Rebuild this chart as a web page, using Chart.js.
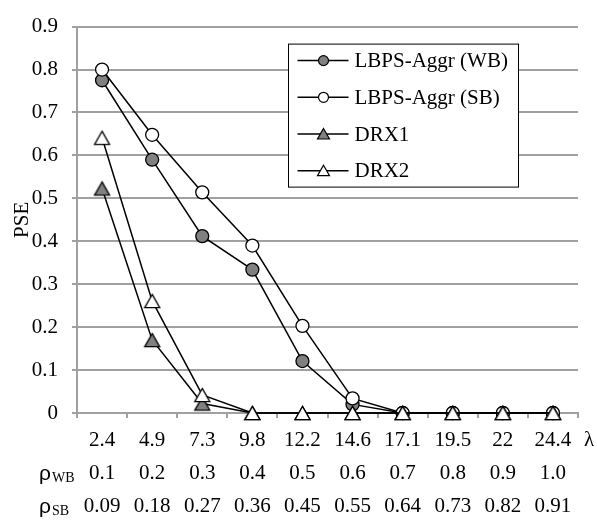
<!DOCTYPE html>
<html>
<head>
<meta charset="utf-8">
<script src="https://cdn.jsdelivr.net/npm/chart.js@4/dist/chart.umd.min.js"></script>
<style>
html, body { margin: 0; padding: 0; background: #fff; }
</style>
</head>
<body>
<canvas id="pseChart" width="597" height="520"></canvas>
<script>
// data
const lambdaLabels = ['2.4', '4.9', '7.3', '9.8', '12.2', '14.6', '17.1', '19.5', '22', '24.4'];
const rhoWB = ['0.1', '0.2', '0.3', '0.4', '0.5', '0.6', '0.7', '0.8', '0.9', '1.0'];
const rhoSB = ['0.09', '0.18', '0.27', '0.36', '0.45', '0.55', '0.64', '0.73', '0.82', '0.91'];
const yTicks = [0, 0.1, 0.2, 0.3, 0.4, 0.5, 0.6, 0.7, 0.8, 0.9];
const yTickLabels = ['0', '0.1', '0.2', '0.3', '0.4', '0.5', '0.6', '0.7', '0.8', '0.9'];

const lbpsWB = [0.775, 0.59, 0.412, 0.334, 0.121, 0.02, 0, 0, 0, 0];
const lbpsSB = [0.8, 0.648, 0.514, 0.39, 0.203, 0.034, 0, 0, 0, 0];
const drx1 = [0.523, 0.17, 0.022, 0, 0, 0, 0, 0, 0, 0];
const drx2 = [0.641, 0.261, 0.042, 0, 0, 0, 0, 0, 0, 0];

const seriesNames = ['LBPS-Aggr (WB)', 'LBPS-Aggr (SB)', 'DRX1', 'DRX2'];

const FONT = "'Liberation Serif', 'Times New Roman', serif";
const SIZE = 21;
const GRID = '#a0a0a0';
const GRAY_FILL = '#808080';

// triangle marker with its box centered on the point (like Excel)
function triangleMarker(r, fill) {
    const c = document.createElement('canvas');
    const w = Math.ceil(r * 2 + 4), h = Math.ceil(r * 1.75 + 4);
    c.width = w; c.height = h;
    const g = c.getContext('2d');
    const cx = w / 2, half = r * 0.875;
    g.beginPath();
    g.moveTo(cx, h / 2 - half);
    g.lineTo(cx + r, h / 2 + half);
    g.lineTo(cx - r, h / 2 + half);
    g.closePath();
    g.fillStyle = fill;
    g.fill();
    g.lineWidth = 1.3;
    g.strokeStyle = '#000';
    g.stroke();
    return c;
}

const labels = lambdaLabels.map((l, i) => [l, rhoWB[i], rhoSB[i]]);

function makeSet(name, data, style, fill, order) {
    return {
        label: name,
        data: data,
        borderColor: '#000',
        borderWidth: 1.5,
        pointStyle: style,
        pointRadius: 6.5,
        pointBackgroundColor: fill,
        pointBorderColor: '#000',
        pointBorderWidth: 1.3,
        tension: 0,
        clip: false,
        order: order
    };
}

// legend + the extra rho / lambda row titles
const extraText = {
    id: 'extraText',
    afterDraw(chart) {
        const ctx = chart.ctx;
        const area = chart.chartArea;
        const rowY = i => area.bottom + 11 + 33 * (i + 0.5);
        ctx.save();
        ctx.fillStyle = '#000';
        ctx.textBaseline = 'middle';
        ctx.textAlign = 'left';
        ctx.font = SIZE + 'px ' + FONT;
        ctx.fillText('λ', area.right + 6, rowY(0));

        const subs = ['WB', 'SB'];
        subs.forEach((s, i) => {
            const y = rowY(i + 1);
            ctx.font = SIZE + "px 'Liberation Sans', Arial, sans-serif";
            ctx.fillText('ρ', 39, y + 1);
            const w = ctx.measureText('ρ').width;
            ctx.font = "14px " + FONT;
            ctx.fillText(s, 39 + w + 1, y + 5);
        });

        // legend box
        const bx = area.left + 211.5, by = area.top + 17.5, bw = 230, bh = 143;
        ctx.fillStyle = '#fff';
        ctx.fillRect(bx, by, bw, bh);
        ctx.strokeStyle = '#000';
        ctx.lineWidth = 1;
        ctx.strokeRect(bx, by, bw, bh);

        const fills = [GRAY_FILL, '#fff', GRAY_FILL, '#fff'];
        const shapes = ['circle', 'circle', 'triangle', 'triangle'];
        seriesNames.forEach((name, i) => {
            const y = by + 16.5 + i * 36.7;
            ctx.beginPath();
            ctx.moveTo(bx + 9, y);
            ctx.lineTo(bx + 60, y);
            ctx.lineWidth = 1.5;
            ctx.strokeStyle = '#000';
            ctx.stroke();
            const mx = bx + 35;
            ctx.beginPath();
            if (shapes[i] === 'circle') {
                ctx.arc(mx, y, 5, 0, Math.PI * 2);
            } else {
                ctx.moveTo(mx, y - 5.5);
                ctx.lineTo(mx + 6, y + 5);
                ctx.lineTo(mx - 6, y + 5);
                ctx.closePath();
            }
            ctx.fillStyle = fills[i];
            ctx.fill();
            ctx.lineWidth = 1.2;
            ctx.stroke();
            ctx.fillStyle = '#000';
            ctx.font = SIZE + 'px ' + FONT;
            ctx.fillText(name, bx + 66, y + 1);
        });
        ctx.restore();
    }
};

const ctx = document.getElementById('pseChart').getContext('2d');
const pseChart = new Chart(ctx, {
    type: 'line',
    data: {
        labels: labels,
        datasets: [
            makeSet(seriesNames[0], lbpsWB, 'circle', GRAY_FILL, 4),
            makeSet(seriesNames[1], lbpsSB, 'circle', '#fff', 3),
            makeSet(seriesNames[2], drx1, triangleMarker(7.5, GRAY_FILL), GRAY_FILL, 2),
            makeSet(seriesNames[3], drx2, triangleMarker(7.5, '#fff'), '#fff', 1)
        ]
    },
    options: {
        responsive: false,
        animation: false,
        devicePixelRatio: 1,
        layout: {
            padding: { top: 19, right: 19, left: 0, bottom: 0 }
        },
        plugins: {
            legend: { display: false },
            tooltip: { enabled: false }
        },
        scales: {
            x: {
                type: 'category',
                offset: true,
                grid: {
                    offset: true,
                    drawOnChartArea: false,
                    drawTicks: true,
                    tickLength: 5,
                    color: GRID,
                    lineWidth: 2
                },
                border: { color: GRID, width: 2 },
                ticks: {
                    color: '#000',
                    font: { family: FONT, size: SIZE, lineHeight: '33px' },
                    padding: 6,
                    maxRotation: 0,
                    autoSkip: false
                },
                afterFit: s => { s.height = 107; }
            },
            y: {
                min: 0,
                max: 0.9,
                afterBuildTicks: s => { s.ticks = yTicks.map(v => ({ value: v })); },
                grid: {
                    color: GRID,
                    lineWidth: 2,
                    tickLength: 5,
                    drawTicks: true
                },
                border: { color: GRID, width: 2 },
                ticks: {
                    color: '#000',
                    font: { family: FONT, size: SIZE },
                    padding: 14,
                    callback: (v, i) => yTickLabels[i]
                },
                title: {
                    display: true,
                    text: 'PSE',
                    color: '#000',
                    font: { family: FONT, size: SIZE },
                    padding: { top: 10, bottom: 0 }
                },
                afterFit: s => { s.width = 77; }
            }
        }
    },
    plugins: [extraText]
});
</script>
</body>
</html>
